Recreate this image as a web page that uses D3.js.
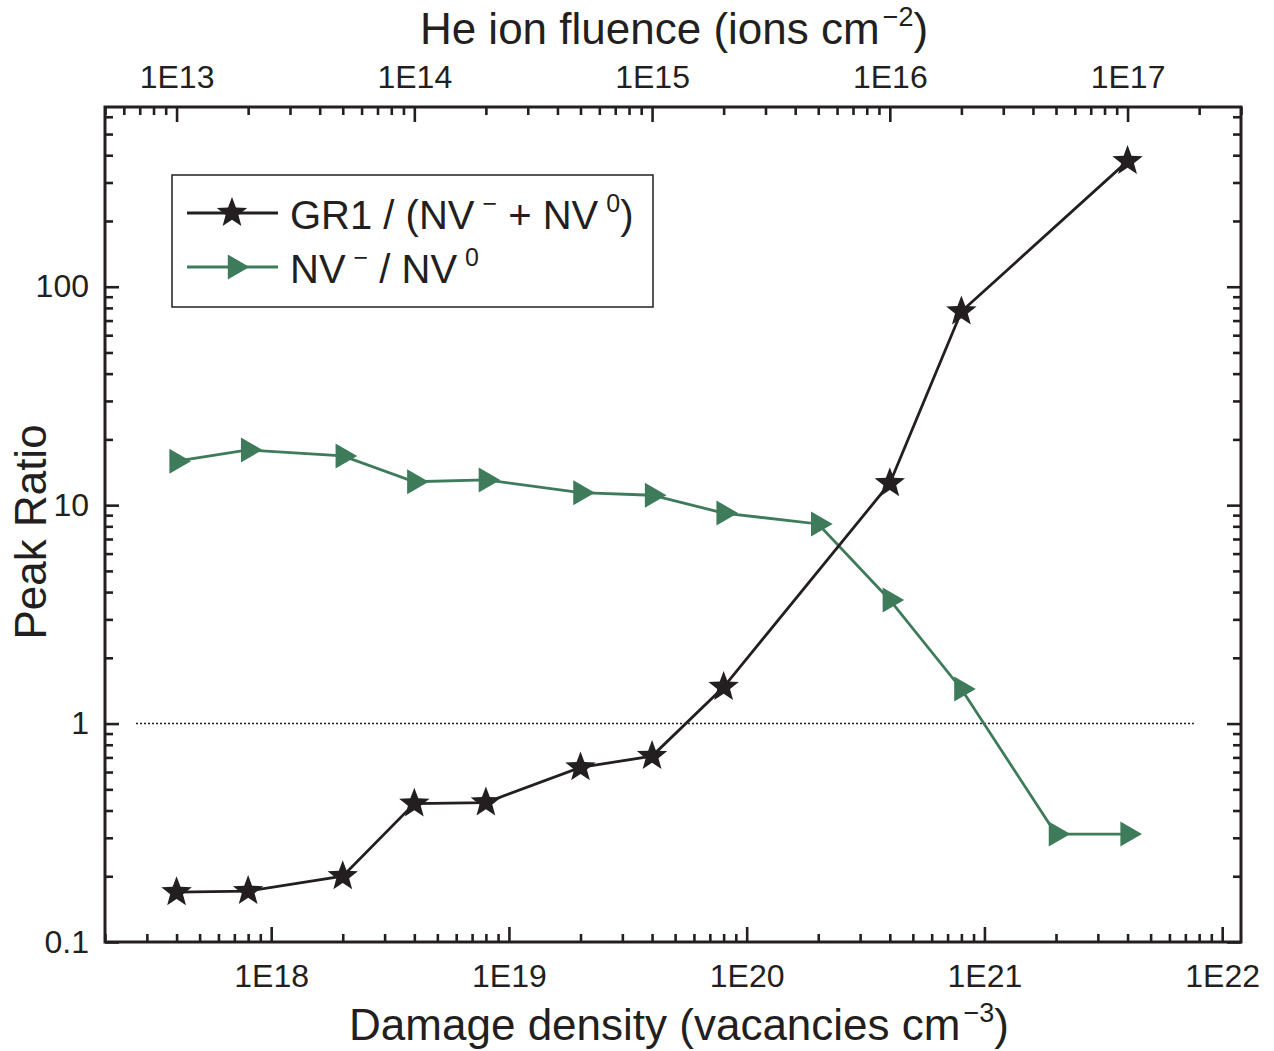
<!DOCTYPE html>
<html><head><meta charset="utf-8">
<script src="https://cdn.jsdelivr.net/npm/d3@7"></script>
<style>body{margin:0;background:#fff}</style>
</head><body><svg id="c" width="1274" height="1051"></svg>
<script>
// ---- data ----
const damageGR1 = [4e17, 8e17, 2e18, 4e18, 8e18, 2e19, 4e19, 8e19, 4e20, 8e20, 4e21];
const gr1Ratio  = [0.169, 0.171, 0.20, 0.43, 0.435, 0.63, 0.71, 1.47, 12.6, 77, 376];
const damageNV  = [4e17, 8e17, 2e18, 4e18, 8e18, 2e19, 4e19, 8e19, 2e20, 4e20, 8e20, 2e21, 4e21];
const nvRatio   = [15.9, 17.9, 16.8, 12.8, 13.05, 11.4, 11.1, 9.2, 8.2, 3.68, 1.44, 0.312, 0.312];
const bottomTickValues = [1e18, 1e19, 1e20, 1e21, 1e22];
const bottomTickLabels = ["1E18", "1E19", "1E20", "1E21", "1E22"];
const topTickValues = [1e13, 1e14, 1e15, 1e16, 1e17];
const topTickLabels = ["1E13", "1E14", "1E15", "1E16", "1E17"];
const yTickValues = [0.1, 1, 10, 100];
const yTickLabels = ["0.1", "1", "10", "100"];
const refLineX = [2.7e17, 7.7e21];
const refLineY = [1, 1];
const seriesNames = ["GR1 / (NV", "NV"];

// ---- layout ----
const FONT = '"Liberation Sans", Arial, Helvetica, sans-serif';
const INK = "#231f20";
const GREEN = "#3e7b5b";
const L = 105, R = 1241, T = 107, B = 942;

const svg = d3.select("#c");
const x = d3.scaleLog().domain([2e17, 1.2e22]).range([L, R]);
const xTop = d3.scaleLog().domain([5e12, 3e17]).range([L, R]);
const y = d3.scaleLog().domain([0.1, 665]).range([B, T]);

function minorTicks(scale) {
  const [a, b] = scale.domain();
  const out = [];
  for (let e = Math.floor(Math.log10(a)); e <= Math.ceil(Math.log10(b)); e++) {
    for (let k = 2; k <= 9; k++) {
      const v = k * Math.pow(10, e);
      if (v >= a && v <= b) out.push(v);
    }
  }
  return out;
}

function styleAxis(g) {
  g.select(".domain").remove();
  g.selectAll(".tick line").attr("stroke", INK).attr("stroke-width", 2.6);
  g.selectAll(".tick text").attr("fill", INK).style("font-family", FONT).style("font-size", "32px");
}

// bottom
svg.append("g").attr("transform", `translate(0,${B})`)
  .call(d3.axisBottom(x).tickValues(minorTicks(x)).tickSize(-8).tickFormat(""))
  .call(styleAxis);
svg.append("g").attr("transform", `translate(0,${B})`)
  .call(d3.axisBottom(x).tickValues(bottomTickValues).tickSize(-15).tickPadding(22)
    .tickFormat((d, i) => bottomTickLabels[i]))
  .call(styleAxis);
// top
svg.append("g").attr("transform", `translate(0,${T})`)
  .call(d3.axisTop(xTop).tickValues(minorTicks(xTop)).tickSize(-8).tickFormat(""))
  .call(styleAxis);
svg.append("g").attr("transform", `translate(0,${T})`)
  .call(d3.axisTop(xTop).tickValues(topTickValues).tickSize(-15).tickPadding(19)
    .tickFormat((d, i) => topTickLabels[i]))
  .call(styleAxis);
// left
svg.append("g").attr("transform", `translate(${L},0)`)
  .call(d3.axisLeft(y).tickValues(minorTicks(y)).tickSize(-8).tickFormat(""))
  .call(styleAxis);
svg.append("g").attr("transform", `translate(${L},0)`)
  .call(d3.axisLeft(y).tickValues(yTickValues).tickSize(-14).tickPadding(16)
    .tickFormat((d, i) => yTickLabels[i]))
  .call(styleAxis);
// right
svg.append("g").attr("transform", `translate(${R},0)`)
  .call(d3.axisRight(y).tickValues(minorTicks(y)).tickSize(-8).tickFormat(""))
  .call(styleAxis);
svg.append("g").attr("transform", `translate(${R},0)`)
  .call(d3.axisRight(y).tickValues(yTickValues).tickSize(-14).tickFormat(""))
  .call(styleAxis);

// frame
svg.append("rect").attr("x", L).attr("y", T).attr("width", R - L).attr("height", B - T)
  .attr("fill", "none").attr("stroke", INK).attr("stroke-width", 3);

// reference dotted line
svg.append("line")
  .attr("x1", x(refLineX[0])).attr("x2", x(refLineX[1]))
  .attr("y1", y(refLineY[0])).attr("y2", y(refLineY[1]))
  .attr("stroke", INK).attr("stroke-width", 1.5).attr("stroke-dasharray", "2,2");

// markers
function starPath(R0) {
  const r0 = R0 * 0.42;
  const pts = [];
  for (let i = 0; i < 10; i++) {
    const a = -Math.PI / 2 + i * Math.PI / 5;
    const rr = i % 2 === 0 ? R0 : r0;
    pts.push([rr * Math.cos(a), rr * Math.sin(a)]);
  }
  return "M" + pts.map(p => p.join(",")).join("L") + "Z";
}
function triPath(h) {
  const w = h * Math.sqrt(3) / 2;
  return `M${-w / 3},${-h / 2}L${2 * w / 3},0L${-w / 3},${h / 2}Z`;
}

const line = d3.line().x(d => x(d[0])).y(d => y(d[1]));
const nvPts = damageNV.map((d, i) => [d, nvRatio[i]]);
const grPts = damageGR1.map((d, i) => [d, gr1Ratio[i]]);

svg.append("path").attr("d", line(nvPts)).attr("fill", "none").attr("stroke", GREEN).attr("stroke-width", 2.8);
svg.selectAll(".tri").data(nvPts).join("path").attr("class", "tri")
  .attr("d", triPath(25)).attr("transform", d => `translate(${x(d[0])},${y(d[1])})`)
  .attr("fill", GREEN);

svg.append("path").attr("d", line(grPts)).attr("fill", "none").attr("stroke", INK).attr("stroke-width", 2.8);
svg.selectAll(".star").data(grPts).join("path").attr("class", "star")
  .attr("d", starPath(16)).attr("transform", d => `translate(${x(d[0])},${y(d[1])})`)
  .attr("fill", INK);

// legend
const lg = svg.append("g");
lg.append("rect").attr("x", 172).attr("y", 175).attr("width", 481).attr("height", 132)
  .attr("fill", "#fff").attr("stroke", INK).attr("stroke-width", 1.5);
lg.append("line").attr("x1", 187).attr("x2", 278).attr("y1", 213).attr("y2", 213)
  .attr("stroke", INK).attr("stroke-width", 2.8);
lg.append("path").attr("d", starPath(16)).attr("transform", "translate(232,213)").attr("fill", INK);
lg.append("line").attr("x1", 187).attr("x2", 278).attr("y1", 267).attr("y2", 267)
  .attr("stroke", GREEN).attr("stroke-width", 2.8);
lg.append("path").attr("d", triPath(25)).attr("transform", "translate(235,267)").attr("fill", GREEN);

function supText(parent, xPos, yPos, parts, size, anchor, gap) {
  const t = parent.append("text").attr("x", xPos).attr("y", yPos)
    .attr("fill", INK).style("font-family", FONT).style("font-size", size + "px")
    .attr("text-anchor", anchor || "start");
  let raised = 0;
  parts.forEach(p => {
    const sp = t.append("tspan").text(p.t);
    if (p.sup) {
      sp.style("font-size", Math.round(size * 0.62) + "px").attr("dy", -size * 0.42 - raised)
        .attr("dx", gap || 0);
      raised = size * 0.42;
    } else {
      sp.style("font-size", size + "px");
      if (raised) { sp.attr("dy", raised); raised = 0; }
    }
  });
  return t;
}

supText(lg, 290, 229, [{t: seriesNames[0]}, {t: "\u2212", sup: true}, {t: " + NV"}, {t: "0", sup: true}, {t: ")"}], 40, "start", 8);
supText(lg, 290, 283, [{t: seriesNames[1]}, {t: "\u2212", sup: true}, {t: " / NV"}, {t: "0", sup: true}], 40, "start", 8);

// axis titles
supText(svg, 674, 44, [{t: "He ion fluence (ions cm"}, {t: "\u22122", sup: true}, {t: ")"}], 44, "middle", 3);
supText(svg, 679, 1040, [{t: "Damage density (vacancies cm"}, {t: "\u22123", sup: true}, {t: ")"}], 44, "middle", 3);
svg.append("text").attr("transform", "translate(46,532) rotate(-90)")
  .attr("text-anchor", "middle").attr("fill", INK)
  .style("font-family", FONT).style("font-size", "44px").text("Peak Ratio");
</script>
</body></html>
